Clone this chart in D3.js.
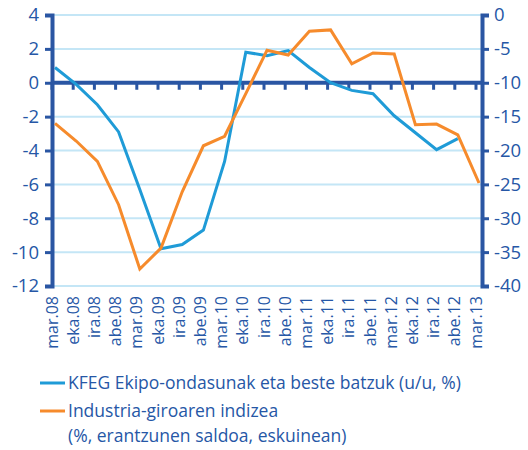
<!DOCTYPE html>
<meta charset="utf-8">
<script src="https://d3js.org/d3.v7.min.js"></script>
<style>
  body { margin: 0; background: #fff; }
  text { font-family: "Open Sans", sans-serif; fill: #2657a6; }
</style>
<div id="chart"></div>
<script>

// data
var categories = ["mar.08","eka.08","ira.08","abe.08",
                  "mar.09","eka.09","ira.09","abe.09",
                  "mar.10","eka.10","ira.10","abe.10",
                  "mar.11","eka.11","ira.11","abe.11",
                  "mar.12","eka.12","ira.12","abe.12",
                  "mar.13"];
// left axis, %
var kfeg = [0.9, -0.1, -1.3, -2.9, -6.3, -9.8, -9.55, -8.7, -4.65, 1.8, 1.6, 1.9,
            0.9, 0.0, -0.45, -0.65, -1.95, -2.95, -3.95, -3.3, null];
// right axis, balance
var industria = [-16.0, -18.6, -21.6, -28.0, -37.5, -34.4, -26.1, -19.3, -17.9, -11.6, -5.2, -5.9,
                 -2.4, -2.2, -7.2, -5.6, -5.75, -16.2, -16.1, -17.7, -24.8];
var leftTicks = [4, 2, 0, -2, -4, -6, -8, -10, -12];
var rightTicks = [0, -5, -10, -15, -20, -25, -30, -35, -40];
var legendLabels = ["KFEG Ekipo-ondasunak eta beste batzuk (u/u, %)",
                    "Industria-giroaren indizea",
                    "(%, erantzunen saldoa, eskuinean)"];

var axisColor = "#2a56a3",
    blue = "#1f9bd7",
    orange = "#f68b2c",
    gridColor = "#c4e6f6";

var width = 528, height = 450;
var plot = {left: 52, right: 482, top: 15, bottom: 286};

// plain hyphen for negatives, like the original
var fmt = function(d) { return String(d); };

var svg = d3.select("#chart")
  .append("svg")
    .attr("width", width)
    .attr("height", height);

var x = d3.scalePoint()
  .domain(categories)
  .range([55, 479]);

var yL = d3.scaleLinear()
  .domain([-12, 4])
  .range([plot.bottom, plot.top]);

var yR = d3.scaleLinear()
  .domain([-40, 0])
  .range([plot.bottom, plot.top]);

// gridlines
svg.append("g")
  .selectAll("line")
  .data(leftTicks)
  .enter()
  .append("line")
    .attr("x1", plot.left)
    .attr("x2", plot.right)
    .attr("y1", function(d) { return yL(d); })
    .attr("y2", function(d) { return yL(d); })
    .attr("stroke", gridColor)
    .attr("stroke-width", 2);

// zero line with category ticks
var zero = svg.append("g")
  .attr("transform", "translate(-3.5," + yL(0) + ")")
  .call(d3.axisBottom(x).tickSize(7).tickFormat(""));
zero.select(".domain").remove();
zero.selectAll(".tick line").attr("stroke", axisColor).attr("stroke-width", 3);
svg.append("line")
  .attr("x1", plot.left).attr("x2", plot.right)
  .attr("y1", yL(0)).attr("y2", yL(0))
  .attr("stroke", axisColor)
  .attr("stroke-width", 4);

// category labels
var xl = svg.append("g")
  .attr("transform", "translate(-3.5," + (plot.bottom + 10) + ")")
  .call(d3.axisBottom(x).tickSize(0));
xl.select(".domain").remove();
xl.selectAll("text")
  .attr("transform", "rotate(-90)")
  .attr("x", 0)
  .attr("y", 0)
  .attr("dy", "0.35em")
  .style("text-anchor", "end")
  .style("font-size", "16px")
  .style("fill", "#2657a6");

// left axis
var ax = svg.append("g")
  .attr("transform", "translate(" + plot.left + ",0)")
  .call(d3.axisLeft(yL).tickValues(leftTicks).tickFormat(fmt).tickSize(7).tickPadding(6));
ax.select(".domain").attr("stroke", axisColor).attr("stroke-width", 4);
ax.selectAll(".tick line").attr("stroke", axisColor).attr("stroke-width", 3);
ax.selectAll("text").style("font-size", "18.5px").style("fill", "#2657a6");

// right axis
var ar = svg.append("g")
  .attr("transform", "translate(" + plot.right + ",0)")
  .call(d3.axisRight(yR).tickValues(rightTicks).tickFormat(fmt).tickSize(7).tickPadding(5));
ar.select(".domain").attr("stroke", axisColor).attr("stroke-width", 4);
ar.selectAll(".tick line").attr("stroke", axisColor).attr("stroke-width", 3);
ar.selectAll("text").style("font-size", "18.5px").style("fill", "#2657a6");

// lines
var lineL = d3.line()
  .defined(function(d) { return d != null; })
  .x(function(d, i) { return x(categories[i]); })
  .y(function(d) { return yL(d); });

var lineR = d3.line()
  .x(function(d, i) { return x(categories[i]); })
  .y(function(d) { return yR(d); });

svg.append("path")
  .datum(kfeg)
  .attr("fill", "none")
  .attr("stroke", blue)
  .attr("stroke-width", 3)
  .attr("d", lineL);

svg.append("path")
  .datum(industria)
  .attr("fill", "none")
  .attr("stroke", orange)
  .attr("stroke-width", 3)
  .attr("d", lineR);

// legend
var lg = svg.append("g");
lg.append("line").attr("x1", 40).attr("x2", 65).attr("y1", 383).attr("y2", 383)
  .attr("stroke", blue).attr("stroke-width", 3);
lg.append("line").attr("x1", 40).attr("x2", 65).attr("y1", 411).attr("y2", 411)
  .attr("stroke", orange).attr("stroke-width", 3);
lg.selectAll("text")
  .data(legendLabels)
  .enter()
  .append("text")
    .attr("x", 68)
    .attr("y", function(d, i) { return [383, 411, 436][i]; })
    .attr("dy", "0.35em")
    .style("font-size", "17.5px")
    .text(function(d) { return d; });

</script>
